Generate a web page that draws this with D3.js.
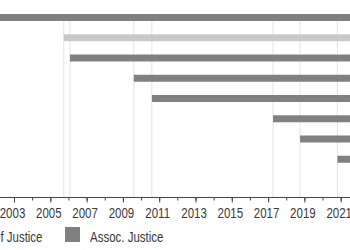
<!DOCTYPE html>
<html>
<head>
<meta charset="utf-8">
<script src="https://cdn.jsdelivr.net/npm/d3@7"></script>
<style>
  body { margin: 0; background: #fff; }
  svg { display: block; font-family: "Liberation Sans", Arial, sans-serif; }
</style>
</head>
<body>
<div id="chart"></div>
<script>
// justices in row order (top to bottom)
const justices = ["Thomas", "Roberts", "Alito", "Sotomayor", "Kagan", "Gorsuch", "Kavanaugh", "Barrett", "Jackson"];
const roles = ["Assoc. Justice", "Chief Justice", "Assoc. Justice", "Assoc. Justice", "Assoc. Justice",
               "Assoc. Justice", "Assoc. Justice", "Assoc. Justice", "Assoc. Justice"];
const startDates = ["1991-10-23", "2005-09-29", "2006-01-31", "2009-08-08", "2010-08-07",
                    "2017-04-10", "2018-10-06", "2020-10-27", "2022-06-30"];
const endDates = ["2024-01-01", "2024-01-01", "2024-01-01", "2024-01-01", "2024-01-01",
                  "2024-01-01", "2024-01-01", "2024-01-01", "2024-01-01"];
const legendLabels = ["Chief Justice", "Assoc. Justice"];

const width = 350, height = 250;
const colors = { "Chief Justice": "#c9c9c9", "Assoc. Justice": "#808080" };
const narrow = 0.82; // the original uses a condensed face

const data = justices.map((name, i) => ({
    name: name,
    role: roles[i],
    start: new Date(startDates[i] + "T00:00:00Z"),
    end: new Date(endDates[i] + "T00:00:00Z")
}));

const svg = d3.select("#chart")
    .append("svg")
    .attr("width", width)
    .attr("height", height);

const x = d3.scaleUtc()
    .domain([new Date(Date.UTC(2003, 0, 1)), new Date(Date.UTC(2021, 0, 1))])
    .range([14, 340.7]);

const y = d3.scalePoint()
    .domain(justices)
    .range([17.5, 179.5]);

const axisY = 197.5;
const barH = 7;
const plotTop = 14;

function condense(sel) {
    sel.each(function() {
        const w = this.getComputedTextLength();
        d3.select(this)
            .attr("textLength", w * narrow)
            .attr("lengthAdjust", "spacingAndGlyphs");
    });
}

// vertical guide lines at each start of term
svg.append("g")
    .selectAll("line")
    .data(data)
    .enter()
    .append("line")
    .attr("x1", d => x(d.start))
    .attr("x2", d => x(d.start))
    .attr("y1", plotTop)
    .attr("y2", axisY)
    .attr("stroke", "#e4e4e4")
    .attr("stroke-width", 1);

svg.append("g")
    .selectAll("rect")
    .data(data)
    .enter()
    .append("rect")
    .attr("x", d => x(d.start))
    .attr("y", d => y(d.name) - barH / 2)
    .attr("width", d => x(d.end) - x(d.start))
    .attr("height", barH)
    .attr("fill", d => colors[d.role]);

// minor ticks every year
const years = d3.utcYear.range(new Date(Date.UTC(2001, 0, 1)), new Date(Date.UTC(2024, 0, 1)));

const minor = svg.append("g")
    .attr("transform", `translate(0,${axisY})`)
    .call(d3.axisBottom(x).tickValues(years).tickSize(3).tickFormat(""));
minor.select(".domain").remove();
minor.selectAll("line").attr("stroke", "#444");

const major = svg.append("g")
    .attr("transform", `translate(0,${axisY})`)
    .call(d3.axisBottom(x)
        .tickValues(years.filter(d => d.getUTCFullYear() % 2 === 1))
        .tickSize(5)
        .tickSizeOuter(0)
        .tickPadding(5.5)
        .tickFormat(d3.utcFormat("%Y")));
major.select(".domain").attr("stroke", "#444").attr("d", `M-10,0H${width + 10}`);
major.selectAll("line").attr("stroke", "#444");
major.selectAll("text")
    .attr("dx", -2)
    .style("font-size", "14px")
    .style("font-family", "'Liberation Sans', Arial, sans-serif")
    .style("fill", "#3a3a3a")
    .call(condense);

// legend, laid out right to left from the Assoc. Justice swatch
const legend = svg.append("g").attr("transform", "translate(0,227)");
const items = legendLabels.map(label => {
    const g = legend.append("g");
    g.append("rect")
        .attr("width", 15)
        .attr("height", 15)
        .attr("fill", colors[label]);
    const t = g.append("text")
        .attr("x", 25)
        .attr("y", 14.5)
        .style("font-size", "14px")
        .style("fill", "#3a3a3a")
        .text(label)
        .call(condense);
    return { g: g, w: +t.attr("textLength") };
});
let pos = 65;
for (let i = items.length - 1; i >= 0; i--) {
    items[i].g.attr("transform", `translate(${pos},0)`);
    if (i > 0) pos -= 22.5 + items[i - 1].w + 25;
}
</script>
</body>
</html>
